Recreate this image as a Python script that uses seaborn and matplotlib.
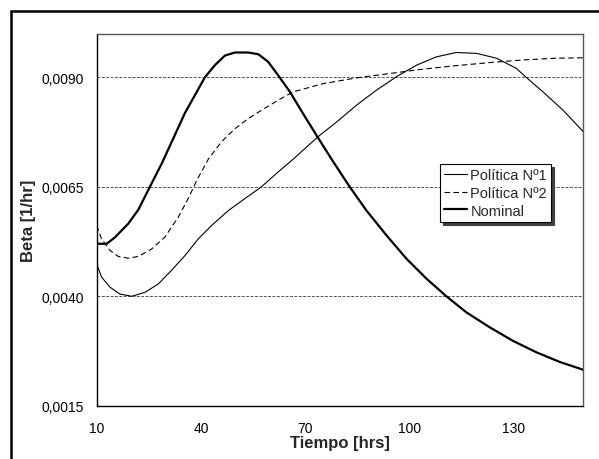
import numpy as np
import pandas as pd
import matplotlib
matplotlib.use("Agg")
import matplotlib.pyplot as plt
import seaborn as sns
from matplotlib.ticker import FuncFormatter
from matplotlib.lines import Line2D

# === Data ===
t_nominal = [10, 12.9, 15.3, 19.1, 22.0, 25.3, 28.7, 32.0, 35.4, 38.3, 41.1, 44.0, 46.9,
             49.8, 53.6, 56.5, 59.3, 62.2, 65.6, 69.4, 73.7, 78.0, 82.8, 87.6, 93.4,
             99.1, 104.9, 110.6, 116.4, 123.1, 129.8, 136.5, 143.2, 150]
beta_nominal = [0.00520, 0.00520, 0.00535, 0.00566, 0.00598, 0.00650, 0.00703, 0.00760,
                0.00819, 0.00860, 0.00900, 0.00928, 0.00950, 0.00957, 0.00957, 0.00953,
                0.00936, 0.00905, 0.00867, 0.00817, 0.00762, 0.00708, 0.00650, 0.00596,
                0.00539, 0.00486, 0.00440, 0.00400, 0.00363, 0.00329, 0.00298, 0.00272,
                0.00250, 0.00232]

t_pol1 = [10, 11.4, 13.8, 16.7, 20.1, 23.9, 27.7, 31.5, 35.4, 39.2, 43.1, 47.9, 52.6,
          57.4, 62.2, 66.5, 69.4, 74.2, 79.0, 84.8, 90.5, 96.3, 102.0, 107.7, 113.5,
          119.3, 125.0, 130.7, 133.6, 138.4, 144.2, 150]
beta_pol1 = [0.00474, 0.00444, 0.00421, 0.00405, 0.00400, 0.00409, 0.00428, 0.00459,
             0.00493, 0.00531, 0.00562, 0.00596, 0.00623, 0.00650, 0.00684, 0.00713,
             0.00734, 0.00768, 0.00798, 0.00837, 0.00871, 0.00902, 0.00928, 0.00947,
             0.00957, 0.00955, 0.00944, 0.00921, 0.00900, 0.00867, 0.00825, 0.00776]

t_pol2 = [10, 11.4, 13.8, 16.2, 19.1, 22.0, 25.8, 29.6, 33.5, 36.3, 39.2, 42.1, 45.9,
          49.8, 53.6, 57.4, 62.2, 66.5, 75.2, 84.8, 94.3, 103.9, 113.5, 123.1, 132.7,
          142.2, 150]
beta_pol2 = [0.00562, 0.00531, 0.00505, 0.00491, 0.00487, 0.00491, 0.00508, 0.00535,
             0.00581, 0.00623, 0.00671, 0.00713, 0.00753, 0.00783, 0.00806, 0.00825,
             0.00848, 0.00867, 0.00886, 0.00899, 0.00909, 0.00919, 0.00927, 0.00934,
             0.00940, 0.00944, 0.00945]

x_ticks = [10, 40, 70, 100, 130]
y_ticks = [0.0015, 0.0040, 0.0065, 0.0090]

# === Style ===
sns.set_style("white")
plt.rcParams["font.family"] = ["Liberation Sans", "DejaVu Sans"]

fig = plt.figure(figsize=(5.99, 4.60), dpi=100)
ax = fig.add_axes([0.1614, 0.1159, 0.9738 - 0.1614, 0.9246 - 0.1159])

# === Lines ===
sns.lineplot(x=t_pol1, y=beta_pol1, ax=ax, color="black", linewidth=0.8,
             label="Política Nº1")
sns.lineplot(x=t_pol2, y=beta_pol2, ax=ax, color="black", linewidth=0.8,
             label="Política Nº2")
ax.lines[-1].set_dashes((5, 3))
sns.lineplot(x=t_nominal, y=beta_nominal, ax=ax, color="black", linewidth=1.6,
             label="Nominal")

# === Axes ===
ax.set_xlim(10, 150)
ax.set_ylim(0.0015, 0.0100)
ax.set_xticks(x_ticks)
ax.set_yticks(y_ticks)
ax.yaxis.set_major_formatter(FuncFormatter(lambda v, p: f"{v:.4f}".replace(".", ",")))
ax.tick_params(axis="x", direction="inout", length=6, width=0.8, labelsize=10,
               colors="black", pad=8)
ax.tick_params(axis="y", direction="out", length=4, width=0.8, labelsize=10,
               colors="black", pad=5)

for y in y_ticks[1:]:
    ax.axhline(y, color="#555555", linewidth=0.7, linestyle=(0, (3, 1.5)), zorder=0)

for side in ["left", "bottom"]:
    ax.spines[side].set_color("black")
    ax.spines[side].set_linewidth(1.0)
for side in ["top", "right"]:
    ax.spines[side].set_color("#555555")
    ax.spines[side].set_linewidth(1.0)

ax.set_xlabel("Tiempo [hrs]", fontsize=12, fontweight="bold", labelpad=0)
ax.set_ylabel("Beta [1/hr]", fontsize=12, fontweight="bold", labelpad=4)

leg = ax.legend(loc="upper left", bbox_to_anchor=(0.705, 0.650), frameon=True,
                fancybox=False, shadow={"color": "0.25", "alpha": 1}, fontsize=10.5,
                handlelength=1.6, handletextpad=0.2, borderpad=0.3, labelspacing=0.25,
                borderaxespad=0)
leg.get_frame().set_edgecolor("black")
leg.get_frame().set_linewidth(0.8)
leg.get_frame().set_alpha(1)

# === Outer frame ===
x0 = 11 / 599
y0 = 1 - 12 / 460
fig.add_artist(Line2D([x0, x0], [0, y0], transform=fig.transFigure, color="black", linewidth=1.8))
fig.add_artist(Line2D([x0, 1], [y0, y0], transform=fig.transFigure, color="black", linewidth=1.8))

fig.savefig("out.png", dpi=100)
